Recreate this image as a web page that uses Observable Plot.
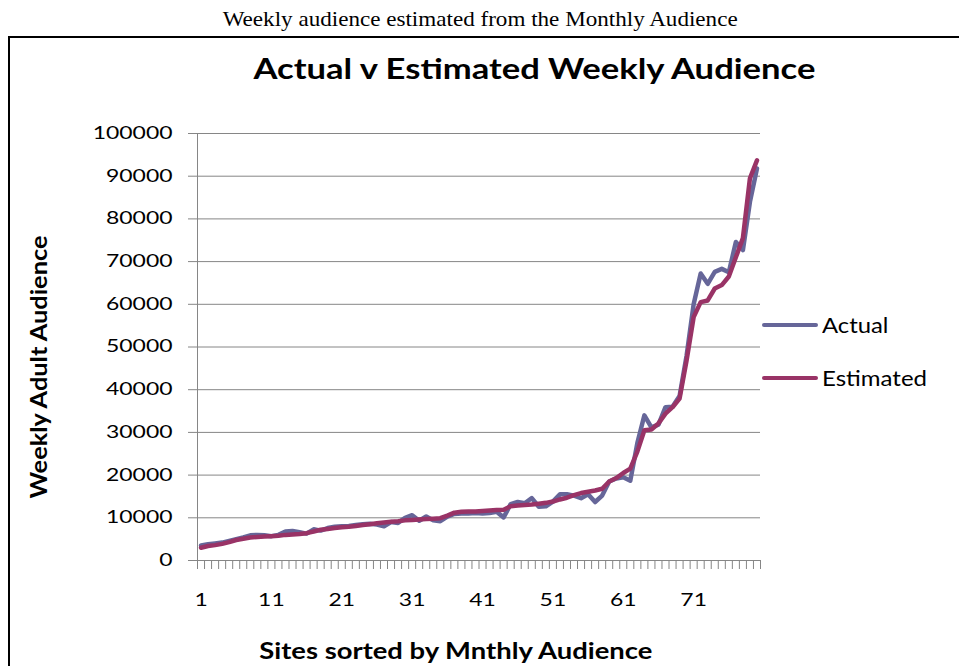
<!DOCTYPE html>
<html>
<head>
<meta charset="utf-8">
<script src="https://cdn.jsdelivr.net/npm/d3@7"></script>
<script src="https://cdn.jsdelivr.net/npm/@observablehq/plot@0.6"></script>
<style>
  body { margin: 0; background: #fff; }
  #page { position: relative; width: 959px; height: 666px; overflow: hidden; background: #fff; }
  .t { position: absolute; white-space: nowrap; line-height: 1.2; color: #000; }
  #frame { position: absolute; left: 8px; top: 36px; width: 1000px; height: 700px;
           border-left: 2px solid #000; border-top: 2px solid #000; }
  #chart { position: absolute; left: 0; top: 120px; }
  .swatch { position: absolute; height: 4px; border-radius: 2px; }
</style>
</head>
<body>
<div id="page">
  <div id="caption" class="t" style="font-family:'Liberation Serif','Times New Roman',serif;font-size:21px;">Weekly audience estimated from the Monthly Audience</div>
  <div id="frame"></div>
  <div id="chart"></div>
  <div id="title" class="t" style="font-family:Lato,sans-serif;font-weight:700;font-size:28px;">Actual v Estimated Weekly Audience</div>
  <div id="ytitle" class="t" style="font-family:Lato,sans-serif;font-weight:700;font-size:23px;">Weekly Adult Audience</div>
  <div id="xtitle" class="t" style="font-family:Lato,sans-serif;font-weight:700;font-size:22px;">Sites sorted by Mnthly Audience</div>
  <div id="sw-actual" class="swatch"></div>
  <div id="sw-estimated" class="swatch"></div>
  <div id="lg-actual" class="t" style="font-family:Lato,sans-serif;font-size:21px;">Actual</div>
  <div id="lg-estimated" class="t" style="font-family:Lato,sans-serif;font-size:21px;">Estimated</div>
</div>
<script>
// Sites ranked by monthly audience, with the measured and modelled weekly audience
const sites = d3.range(1, 81);

const actual = [
  3500, 3800, 4000, 4200, 4600, 5000, 5400, 5900, 6000, 5900,
  5700, 6000, 6800, 6900, 6600, 6300, 7300, 7000, 7600, 7900,
  8000, 8100, 8300, 8500, 8600, 8400, 8000, 9000, 8800, 10000,
  10600, 9300, 10300, 9400, 9200, 10300, 10900, 11000, 11000, 11100,
  11000, 11100, 11400, 10100, 13200, 13700, 13400, 14600, 12600, 12700,
  13800, 15500, 15500, 15200, 14600, 15500, 13700, 15200, 18500, 19200,
  19500, 18700, 27500, 34000, 31200, 31800, 35900, 36000, 38500, 48000,
  60000, 67200, 64800, 67600, 68300, 67500, 74600, 72700, 84000, 91800
];

const estimated = [
  3000, 3400, 3600, 3900, 4300, 4800, 5100, 5400, 5500, 5600,
  5700, 5800, 6000, 6100, 6200, 6400, 6800, 7200, 7400, 7600,
  7800, 7900, 8100, 8300, 8500, 8700, 8900, 9100, 9200, 9400,
  9500, 9600, 9700, 9800, 9900, 10500, 11200, 11400, 11500, 11500,
  11600, 11700, 11800, 11900, 12700, 12900, 13000, 13100, 13300, 13500,
  13800, 14300, 14700, 15300, 15800, 16100, 16400, 16800, 18500, 19300,
  20500, 21500, 25500, 30500, 30700, 32100, 34400, 35900, 37900, 46900,
  57000, 60500, 60900, 63700, 64500, 66500, 71000, 75500, 89500, 93700
];

const seriesNames = ["Actual", "Estimated"];
const seriesColors = ["#666699", "#993366"];

const yTicks = d3.range(0, 100001, 10000);
const xTickLabels = [1, 11, 21, 31, 41, 51, 61, 71];
const catBounds = d3.range(0.5, sites.length + 1, 1);

const rows = [
  ...sites.map((s, i) => ({site: s, value: actual[i], series: seriesNames[0]})),
  ...sites.map((s, i) => ({site: s, value: estimated[i], series: seriesNames[1]}))
];

const grid = "#868686";
const tickFont = "Lato, sans-serif";

const chart = Plot.plot({
  width: 959,
  height: 500,
  marginTop: 13,
  marginBottom: 60,
  marginLeft: 197,
  marginRight: 199,
  style: {fontFamily: tickFont, fontSize: "17px", color: "#000", background: "transparent", overflow: "visible"},
  x: {type: "linear", domain: [0.5, sites.length + 0.5]},
  y: {domain: [0, 100000]},
  color: {domain: seriesNames, range: seriesColors},
  marks: [
    Plot.gridY(yTicks.slice(1), {stroke: grid, strokeOpacity: 1, strokeWidth: 1}),
    Plot.ruleX([0.5], {y1: 0, y2: 100000, stroke: grid}),
    Plot.ruleY([0], {stroke: grid}),
    Plot.axisY(yTicks, {tickSize: 9, tickPadding: 16, stroke: grid, fill: "#000",
                        fontSize: 17, tickFormat: d => String(d), label: null}),
    Plot.axisX(catBounds, {tickSize: 9, stroke: grid, fill: "none", label: null}),
    Plot.axisX(xTickLabels, {tickSize: 0, tickPadding: 33, fill: "#000", fontSize: 17,
                             tickFormat: d => String(d), label: null}),
    Plot.line(rows, {x: "site", y: "value", z: "series", stroke: "series",
                     strokeWidth: 4.5, strokeLinejoin: "round", strokeLinecap: "round"})
  ]
});
document.getElementById("chart").appendChild(chart);

// widen the tick labels about their anchors
const yLabelGroup = chart.querySelector('g[aria-label="y-axis tick label"]');
const xLabelGroup = chart.querySelector('g[aria-label="x-axis tick label"]');
let widest = 0;
yLabelGroup.querySelectorAll("text").forEach(t => { widest = Math.max(widest, t.getBBox().width); });
const tickScale = widest > 0 ? 80 / widest : 1;
[yLabelGroup, xLabelGroup].forEach(g => g && g.querySelectorAll("text").forEach(t => {
  t.setAttribute("transform", (t.getAttribute("transform") || "") + ` scale(${tickScale},1)`);
}));

// place a text block by its baseline, fitted to a width
function baselineOffset(el) {
  const probe = document.createElement("span");
  probe.style.cssText = "display:inline-block;width:0;height:0;vertical-align:baseline;";
  el.appendChild(probe);
  const off = probe.getBoundingClientRect().top - el.getBoundingClientRect().top;
  el.removeChild(probe);
  return off;
}
function place(id, {cx, left, baseline, width, rotate = 0}) {
  const el = document.getElementById(id);
  el.style.left = "0px"; el.style.top = "0px"; el.style.transform = "none";
  const w = el.getBoundingClientRect().width;
  const b = baselineOffset(el);
  const s = width ? width / w : 1;
  const ox = left !== undefined ? 0 : w / 2;
  const ax = left !== undefined ? left : cx;
  el.style.left = (ax - ox) + "px";
  el.style.top = (baseline - b) + "px";
  el.style.transformOrigin = `${ox}px ${b}px`;
  el.style.transform = `${rotate ? `rotate(${rotate}deg) ` : ""}scaleX(${s})`;
}

place("caption", {cx: 480, baseline: 26, width: 515});
place("title", {cx: 534, baseline: 78.5, width: 562});
place("xtitle", {cx: 456, baseline: 659, width: 393});
// rotated title: anchor point is (baseline x, centre y)
place("ytitle", {cx: 47, baseline: 366.5, width: 263, rotate: -90});

// legend
const swatches = [["sw-actual", 325], ["sw-estimated", 378.3]];
swatches.forEach(([id, y], i) => {
  const el = document.getElementById(id);
  el.style.left = "762px"; el.style.width = "56px";
  el.style.top = (y - 2) + "px";
  el.style.background = seriesColors[i];
});
place("lg-actual", {left: 822, baseline: 333.3, width: 66.5});
place("lg-estimated", {left: 822, baseline: 385.7, width: 105});
</script>
</body>
</html>
